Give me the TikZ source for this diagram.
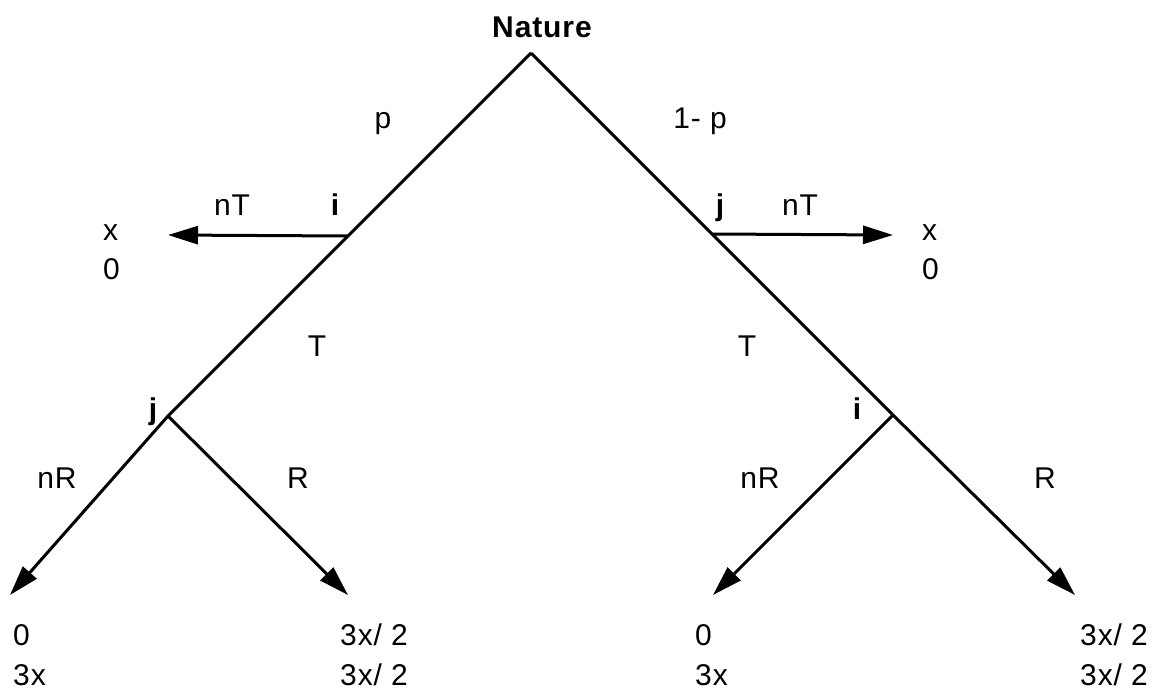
\documentclass[tikz,border=0pt]{standalone}
\usepackage{fontspec}
\setmainfont{Liberation Sans}
\usetikzlibrary{arrows.meta}
\begin{document}
\begin{tikzpicture}[x=1pt,y=-1pt,
  edge/.style={line width=3pt},
  arr/.style={line width=3pt,-{Triangle[length=30pt,width=18pt]}},
  lbl/.style={font=\fontsize{30}{36}\selectfont\addfontfeature{LetterSpace=3},inner sep=0pt,anchor=base},
  lblw/.style={lbl,anchor=base west},
  player/.style={font=\fontsize{30}{36}\selectfont\bfseries\addfontfeature{LetterSpace=3},inner sep=0pt,anchor=base}]
\path[use as bounding box] (0,0) rectangle (1158,694);
% junctions
\coordinate (apex) at (531,53);
\coordinate (iL) at (348,236);
\coordinate (jL) at (168,416);
\coordinate (jR) at (712,234);
\coordinate (iR) at (893,415);
% tips
\coordinate (tnTL) at (168,235);
\coordinate (tnTR) at (893,235);
\coordinate (tnRL) at (10,595);
\coordinate (tRL) at (348,595);
\coordinate (tnRR) at (713,595);
\coordinate (tRR) at (1075,595);
% edges
\draw[edge] (jL) -- (iL) -- (apex);
\draw[arr] (apex) -- (jR) -- (iR) -- (tRR);
\draw[arr] (iL) -- (tnTL);
\draw[arr] (jR) -- (tnTR);
\draw[arr] (jL) -- (tnRL);
\draw[arr] (jL) -- (tRL);
\draw[arr] (iR) -- (tnRR);
% labels
\node[player] (nature) at (542,37) {Nature};
\node[lbl] (lp) at (383,128) {p};
\node[lbl] (l1p) at (700,128) {1- p};
\node[lbl] (lnTL) at (232,215) {nT};
\node[player] (piL) at (335,215) {i};
\node[player] (pjR) at (720,215) {j};
\node[lbl] (lnTR) at (800,215) {nT};
\node[lblw] (xL) at (103,240) {x};
\node[lblw] (zL) at (103,279) {0};
\node[lblw] (xR) at (922,240) {x};
\node[lblw] (zR) at (922,279) {0};
\node[lbl] (lTL) at (317,356) {T};
\node[lbl] (lTR) at (747,356) {T};
\node[player] (pjL) at (153,419) {j};
\node[player] (piR) at (857,419) {i};
\node[lbl] (lnRL) at (57,488) {nR};
\node[lbl] (lRL) at (298,488) {R};
\node[lbl] (lnRR) at (760,488) {nR};
\node[lbl] (lRR) at (1045,488) {R};
\node[lblw] (p1a) at (13,645) {0};
\node[lblw] (p1b) at (13,685) {3x};
\node[lblw] (p2a) at (340,645) {3x/ 2};
\node[lblw] (p2b) at (340,685) {3x/ 2};
\node[lblw] (p3a) at (695,645) {0};
\node[lblw] (p3b) at (695,685) {3x};
\node[lblw] (p4a) at (1080,645) {3x/ 2};
\node[lblw] (p4b) at (1080,685) {3x/ 2};
\end{tikzpicture}
\end{document}
